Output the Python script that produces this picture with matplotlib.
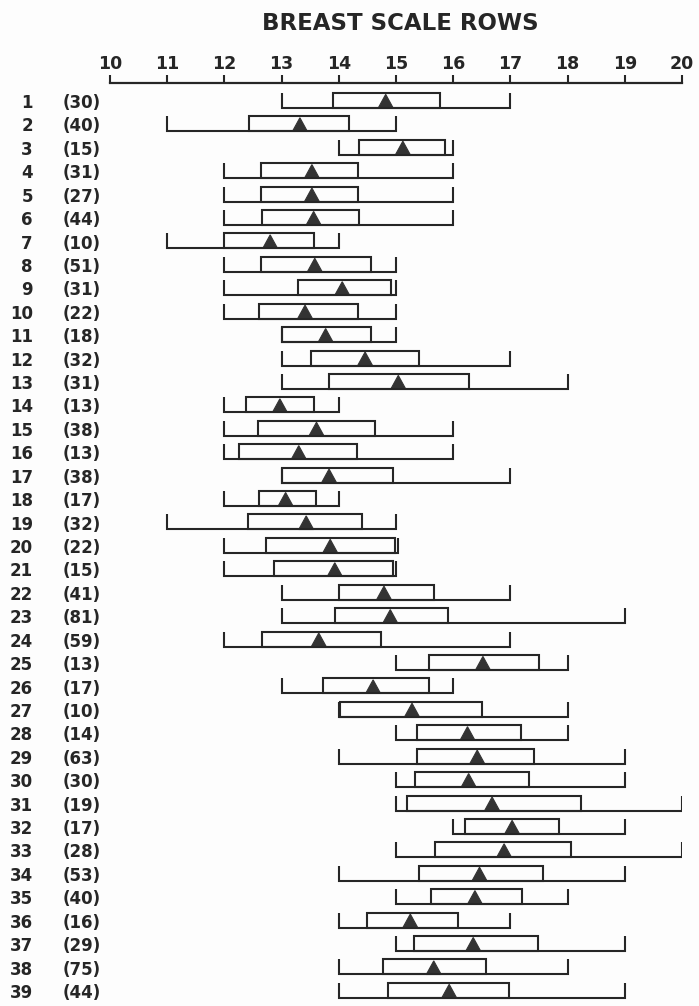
import matplotlib
matplotlib.use("Agg")
import matplotlib.pyplot as plt
import matplotlib.transforms as mtransforms
from matplotlib.patches import Rectangle, Polygon

# Breast scale row counts per sample: range (min/max), central box (lo/hi) and mean
sample_id = list(range(1, 40))
sample_n = [30, 40, 15, 31, 27, 44, 10, 51, 31, 22, 18, 32, 31, 13, 38, 13, 38, 17, 32, 22,
            15, 41, 81, 59, 13, 17, 10, 14, 63, 30, 19, 17, 28, 53, 40, 16, 29, 75, 44]
range_min = [13, 11, 14, 12, 12, 12, 11, 12, 12, 12, 13, 13, 13, 12, 12, 12, 13, 12, 11, 12,
             12, 13, 13, 12, 15, 13, 14, 15, 14, 15, 15, 16, 15, 14, 15, 14, 15, 14, 14]
range_max = [17, 15, 16, 16, 16, 16, 14, 15, 15, 15, 15, 17, 18, 14, 16, 16, 17, 14, 15, 15.03,
             15, 17, 19, 17, 18, 16, 18, 18, 19, 19, 20, 19, 20, 19, 18, 17, 19, 18, 19]
box_lo = [13.90, 12.43, 14.36, 12.64, 12.64, 12.65, 12.00, 12.64, 13.29, 12.61,
          13.00, 13.51, 13.83, 12.38, 12.58, 12.25, 13.00, 12.60, 12.41, 12.73,
          12.87, 14.00, 13.94, 12.65, 15.57, 13.72, 14.02, 15.37, 15.37, 15.33,
          15.20, 16.21, 15.68, 15.41, 15.62, 14.50, 15.32, 14.77, 14.86]
box_hi = [15.77, 14.18, 15.86, 14.34, 14.34, 14.36, 13.56, 14.57, 14.92, 14.34,
          14.57, 15.41, 16.28, 13.56, 14.64, 14.32, 14.95, 13.60, 14.41, 14.98,
          14.95, 15.66, 15.91, 14.73, 17.50, 15.57, 16.50, 17.18, 17.42, 17.32,
          18.24, 17.85, 18.06, 17.57, 17.20, 16.09, 17.48, 16.57, 16.97]
mean_val = [14.82, 13.32, 15.12, 13.53, 13.53, 13.56, 12.80, 13.58, 14.06, 13.41,
            13.77, 14.46, 15.04, 12.97, 13.61, 13.30, 13.83, 13.07, 13.43, 13.85,
            13.93, 14.79, 14.90, 13.65, 16.52, 14.60, 15.28, 16.25, 16.42, 16.27,
            16.68, 17.03, 16.89, 16.46, 16.38, 15.25, 16.35, 15.66, 15.93]
x_ticks = list(range(10, 21))

INK = "#262626"
FONT = ["DejaVu Sans"]

W, H = 699, 1006
fig = plt.figure(figsize=(W / 100, H / 100), dpi=100)
fig.patch.set_facecolor("#fdfdfd")

# axes: scale line sits at the top edge, rows hang below it
ax = fig.add_axes([110 / W, 0, 572 / W, 1 - 83 / H])
ax.set_facecolor("none")
ax.set_xlim(10, 20)
ax.set_ylim(39.556, 0.146)
for side in ("left", "right", "bottom"):
    ax.spines[side].set_visible(False)
ax.spines["top"].set_linewidth(1.6)
ax.spines["top"].set_color(INK)
ax.xaxis.tick_top()
ax.set_xticks(x_ticks)
ax.set_xticklabels([str(t) for t in x_ticks], fontfamily=FONT, fontweight="bold",
                   fontsize=12.5, color=INK)
ax.tick_params(axis="x", direction="out", length=6, width=1.5, color=INK, pad=1.5)
ax.set_yticks([])

fig.text(400 / W, 1 - 23.5 / H, "BREAST SCALE ROWS", ha="center", va="center",
         fontfamily=FONT, fontweight="bold", fontsize=16.5, color=INK)

top_off, bot_off = -0.43, 0.21
apex_off = -0.37
tri_hw = 0.13
lw = 1.5

lab_tr = mtransforms.blended_transform_factory(fig.transFigure, ax.transData)

for i, sid in enumerate(sample_id):
    c = sid
    top = c + top_off
    bot = c + bot_off
    # range bracket
    ax.plot([range_min[i], range_min[i], range_max[i], range_max[i]],
            [top, bot, bot, top], color=INK, lw=lw, solid_joinstyle="miter",
            solid_capstyle="butt")
    # central box
    ax.add_patch(Rectangle((box_lo[i], top), box_hi[i] - box_lo[i], bot - top,
                           fill=False, edgecolor=INK, lw=lw, joinstyle="miter"))
    # mean marker
    m = mean_val[i]
    ax.add_patch(Polygon([(m - tri_hw, bot), (m + tri_hw, bot), (m, c + apex_off)],
                         closed=True, facecolor="#333333", edgecolor="#333333", lw=0.8))
    # row labels
    ax.text(33 / W, c, str(sid), transform=lab_tr, ha="right", va="center",
            fontfamily=FONT, fontweight="bold", fontsize=12, color=INK)
    ax.text(63 / W, c, f"({sample_n[i]})", transform=lab_tr, ha="left", va="center",
            fontfamily=FONT, fontweight="bold", fontsize=12, color=INK)

fig.savefig("out.png", dpi=100, facecolor=fig.get_facecolor())
